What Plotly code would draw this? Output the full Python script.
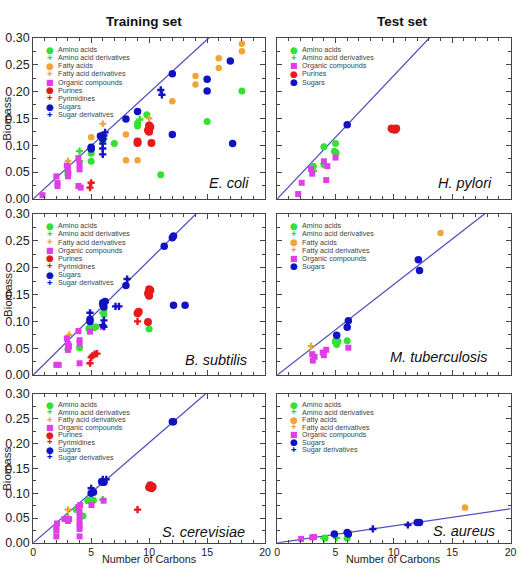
import plotly.graph_objects as go

# ---------------- data ----------------
CLASSES = ["Amino acids", "Amino acid derivatives", "Fatty acids", "Fatty acid derivatives",
           "Organic compounds", "Purines", "Pyrimidines", "Sugars", "Sugar derivatives"]

# E. coli (training)
ecoli_class = (["Amino acids"] * 11 + ["Amino acid derivatives"] * 5 + ["Fatty acids"] * 12 +
               ["Fatty acid derivatives"] * 4 + ["Organic compounds"] * 13 + ["Purines"] * 8 +
               ["Pyrimidines"] * 2 + ["Sugars"] * 12 + ["Sugar derivatives"] * 7)
ecoli_carbons = [5, 5, 6, 7, 9, 9, 9.8, 11, 15, 18, 3,
                 4, 9.2, 4, 3, 6.1,
                 5, 8, 8, 9, 12, 14, 14, 16, 16, 18, 18, 6,
                 3, 6, 10, 3,
                 0.8, 2, 2.1, 2.1, 3, 3, 3, 2.9, 3.9, 4, 4, 3.9, 4.1,
                 9, 9, 10, 10, 10, 9.9, 10.1, 10.2,
                 4.9, 5,
                 5, 5, 5.8, 6, 8, 9, 12, 12, 15, 15, 17, 17.2,
                 6, 6, 6.2, 6, 11, 11.1, 6.1]
ecoli_biomass = [0.085, 0.070, 0.108, 0.103, 0.136, 0.141, 0.157, 0.045, 0.144, 0.201, 0.045,
                 0.089, 0.148, 0.070, 0.050, 0.112,
                 0.115, 0.120, 0.072, 0.072, 0.182, 0.229, 0.213, 0.262, 0.244, 0.289, 0.275, 0.119,
                 0.071, 0.140, 0.150, 0.065,
                 0.007, 0.042, 0.030, 0.024, 0.058, 0.048, 0.042, 0.062, 0.076, 0.064, 0.055, 0.024, 0.021,
                 0.107, 0.104, 0.131, 0.125, 0.137, 0.128, 0.134, 0.104,
                 0.021, 0.030,
                 0.096, 0.093, 0.117, 0.112, 0.149, 0.163, 0.233, 0.120, 0.201, 0.223, 0.257, 0.103,
                 0.103, 0.083, 0.124, 0.094, 0.203, 0.194, 0.118]

# H. pylori (test)
hpylori_class = (["Amino acids"] * 6 + ["Amino acid derivatives"] * 1 + ["Organic compounds"] * 8 +
                 ["Purines"] * 4 + ["Sugars"] * 1)
hpylori_carbons = [4, 3.1, 4, 5, 4.9, 5.05,
                   3.1,
                   1.8, 2.1, 2.9, 3, 4, 4.3, 4.2, 5,
                   9.9, 10.1, 10.2, 9.8,
                   6]
hpylori_biomass = [0.097, 0.061, 0.064, 0.103, 0.089, 0.086,
                   0.052,
                   0.009, 0.030, 0.056, 0.047, 0.070, 0.061, 0.035, 0.077,
                   0.130, 0.129, 0.131, 0.131,
                   0.138]

# B. subtilis (training)
bsub_class = (["Amino acids"] * 8 + ["Amino acid derivatives"] * 2 + ["Fatty acid derivatives"] * 1 +
              ["Organic compounds"] * 12 + ["Purines"] * 8 + ["Pyrimidines"] * 6 +
              ["Sugars"] * 12 + ["Sugar derivatives"] * 8)
bsub_carbons = [4.9, 5.2, 5.4, 4.8, 6.1, 6.1, 10, 4,
                3, 6,
                3.1,
                2, 2.2, 2.9, 3, 3, 3.1, 3.9, 4, 4, 4, 4.9, 6,
                10, 10, 10, 9.9, 10.1, 9, 9.1, 9.9,
                9, 4.9, 5, 5.3, 5.1, 5.5,
                4.9, 4.9, 6, 6.1, 6, 6.2, 8, 12.1, 12, 11.3, 12.1, 13.1,
                4.9, 6.1, 6.1, 6, 6.2, 7.1, 7.4, 8.1]
bsub_biomass = [0.089, 0.088, 0.090, 0.087, 0.113, 0.121, 0.086, 0.051,
                0.048, 0.116,
                0.075,
                0.019, 0.019, 0.068, 0.047, 0.058, 0.054, 0.082, 0.065, 0.059, 0.022, 0.081, 0.090,
                0.156, 0.148, 0.160, 0.152, 0.158, 0.115, 0.118, 0.099,
                0.100, 0.022, 0.033, 0.039, 0.036, 0.040,
                0.104, 0.100, 0.131, 0.127, 0.135, 0.137, 0.167, 0.259, 0.256, 0.240, 0.130, 0.130,
                0.116, 0.102, 0.090, 0.093, 0.136, 0.128, 0.128, 0.179]

# M. tuberculosis (test)
mtb_class = (["Amino acids"] * 4 + ["Amino acid derivatives"] * 1 + ["Fatty acids"] * 1 +
             ["Fatty acid derivatives"] * 1 + ["Organic compounds"] * 7 + ["Sugars"] * 5)
mtb_carbons = [5, 5.2, 5.1, 6,
               5,
               14,
               2.9,
               3, 3.2, 3.05, 3.9, 4, 4.2, 6.1,
               5.1, 6, 6.1, 12.1, 12.2]
mtb_biomass = [0.064, 0.063, 0.057, 0.064,
               0.060,
               0.265,
               0.054,
               0.039, 0.034, 0.027, 0.042, 0.037, 0.047, 0.051,
               0.074, 0.089, 0.101, 0.215, 0.195]

# S. cerevisiae (training)
scer_class = (["Amino acids"] * 6 + ["Amino acid derivatives"] * 2 + ["Fatty acid derivatives"] * 1 +
              ["Organic compounds"] * 17 + ["Purines"] * 4 + ["Pyrimidines"] * 1 +
              ["Sugars"] * 7 + ["Sugar derivatives"] * 3)
scer_carbons = [3.7, 4.8, 5, 5.2, 4.7, 4.3,
                3, 6,
                3,
                2, 2, 2, 2.05, 2.7, 3, 3.1, 4, 4, 4, 4, 4, 4, 4.05, 5.03, 6.07, 3.9,
                10.2, 10.1, 10, 10.3,
                9,
                5, 5.2, 6, 6.1, 5.9, 12.1, 12,
                5, 6, 6.3]
scer_biomass = [0.067, 0.086, 0.086, 0.086, 0.085, 0.054,
                0.051, 0.087,
                0.067,
                0.013, 0.025, 0.031, 0.039, 0.048, 0.044, 0.048, 0.013, 0.028, 0.035, 0.043, 0.054,
                0.063, 0.076, 0.076, 0.085, 0.072,
                0.110, 0.116, 0.112, 0.113,
                0.067,
                0.100, 0.102, 0.122, 0.122, 0.123, 0.244, 0.244,
                0.110, 0.128, 0.128]

# S. aureus (test)
saur_class = (["Amino acids"] * 2 + ["Amino acid derivatives"] * 2 + ["Fatty acids"] * 1 +
              ["Organic compounds"] * 3 + ["Sugars"] * 5 + ["Sugar derivatives"] * 2)
saur_carbons = [4.1, 6,
                5.1, 4,
                16.1,
                2.05, 3, 3.15,
                4.9, 6, 6.1, 12.2, 12,
                8.2, 11.2]
saur_biomass = [0.010, 0.010,
                0.010, 0.009,
                0.071,
                0.008, 0.011, 0.012,
                0.018, 0.021, 0.018, 0.041, 0.041,
                0.028, 0.036]

# fitted line slopes (biomass per carbon)
fit_slopes = {"E. coli": 0.0198, "H. pylori": 0.0230, "B. subtilis": 0.0214,
              "M. tuberculosis": 0.0169, "S. cerevisiae": 0.0202, "S. aureus": 0.00344}

legend_ecoli = CLASSES
legend_hpylori = ["Amino acids", "Amino acid derivatives", "Organic compounds", "Purines", "Sugars"]
legend_bsub = ["Amino acids", "Amino acid derivatives", "Fatty acid derivatives", "Organic compounds",
               "Purines", "Pyrimidines", "Sugars", "Sugar derivatives"]
legend_mtb = ["Amino acids", "Amino acid derivatives", "Fatty acids", "Fatty acid derivatives",
              "Organic compounds", "Sugars"]
legend_scer = legend_bsub
legend_saur = ["Amino acids", "Amino acid derivatives", "Fatty acids", "Fatty acid derivatives",
               "Organic compounds", "Sugars", "Sugar derivatives"]

# ---------------- styles ----------------
GREEN, ORANGE, MAGENTA, RED, BLUE = "#35e035", "#f2a535", "#e03ee6", "#e61a1a", "#1212c4"
STYLE = {
    "Amino acids": ("circle", GREEN, 7, "●", 9),
    "Amino acid derivatives": ("cross", GREEN, 6, "✚", 6.5),
    "Fatty acids": ("circle", ORANGE, 6.5, "●", 9),
    "Fatty acid derivatives": ("cross", ORANGE, 5.5, "✚", 6.5),
    "Organic compounds": ("square", MAGENTA, 6, "■", 8),
    "Purines": ("circle", RED, 8, "●", 9),
    "Pyrimidines": ("cross", RED, 6, "✚", 6.5),
    "Sugars": ("circle", BLUE, 7.5, "●", 9),
    "Sugar derivatives": ("cross", BLUE, 6, "✚", 6.5),
}
LINE_COLOR = "#5252c2"
AXIS_COLOR = "#444444"
FONT = "Liberation Sans, Arial, Helvetica, sans-serif"

# panel: name, data, legend, axis index, row, col, label x (domain), label y (domain)
panels = [
    ("E. coli", ecoli_carbons, ecoli_biomass, ecoli_class, legend_ecoli, 1, 1, 1, 0.941, 0.10),
    ("H. pylori", hpylori_carbons, hpylori_biomass, hpylori_class, legend_hpylori, 2, 1, 2, 0.931, 0.097),
    ("B. subtilis", bsub_carbons, bsub_biomass, bsub_class, legend_bsub, 3, 2, 1, 0.932, 0.091),
    ("M. tuberculosis", mtb_carbons, mtb_biomass, mtb_class, legend_mtb, 4, 2, 2, 0.914, 0.11),
    ("S. cerevisiae", scer_carbons, scer_biomass, scer_class, legend_scer, 5, 3, 1, 0.922, 0.074),
    ("S. aureus", saur_carbons, saur_biomass, saur_class, legend_saur, 6, 3, 2, 0.943, 0.079),
]

W, H = 524, 572
XDOM = {1: [30.7 / W, 266.7 / W], 2: [279.0 / W, 516.4 / W]}
YPIX = {1: (31.7, 196.7), 2: (212.3, 377.3), 3: (396.7, 549.3)}
YDOM = {r: [1 - b / H, 1 - t / H] for r, (t, b) in YPIX.items()}

fig = go.Figure()
annotations = []

for name, cx, by, cls, leg, idx, row, col, lx, ly in panels:
    xa = "x" if idx == 1 else f"x{idx}"
    ya = "y" if idx == 1 else f"y{idx}"
    s = fit_slopes[name]
    fig.add_trace(go.Scatter(x=[0, 20], y=[0, s * 20], mode="lines",
                             line=dict(color=LINE_COLOR, width=1.3),
                             xaxis=xa, yaxis=ya, showlegend=False, hoverinfo="skip"))
    for c in CLASSES:
        px = [x for x, k in zip(cx, cls) if k == c]
        py = [y for y, k in zip(by, cls) if k == c]
        if not px:
            continue
        sym, colr, size, _, _ = STYLE[c]
        fig.add_trace(go.Scatter(x=px, y=py, mode="markers", name=c,
                                 marker=dict(symbol=sym, color=colr, size=size, line=dict(width=0)),
                                 xaxis=xa, yaxis=ya, showlegend=False, cliponaxis=False))
    # legend drawn as text inside the panel
    t, b = YPIX[row]
    step = 8.15 * (b - t) / 165.0
    for i, c in enumerate(leg):
        _, colr, _, glyph, gsize = STYLE[c]
        yshift = -(11.6 * (b - t) / 165.0 + i * step)
        annotations.append(dict(xref=f"{xa} domain", yref=f"{ya} domain", x=0, y=1,
                                xshift=16.8, yshift=yshift, xanchor="center", yanchor="middle",
                                text=glyph, showarrow=False, borderpad=0,
                                font=dict(family="DejaVu Sans", size=gsize, color=colr)))
        annotations.append(dict(xref=f"{xa} domain", yref=f"{ya} domain", x=0, y=1,
                                xshift=24.0, yshift=yshift, xanchor="left", yanchor="middle",
                                text=c, showarrow=False, borderpad=0,
                                font=dict(family=FONT, size=7.2, color="#444444")))
    annotations.append(dict(xref=f"{xa} domain", yref=f"{ya} domain", x=lx, y=ly,
                            xanchor="right", yanchor="middle", text=f"<i>{name}</i>",
                            showarrow=False, font=dict(family=FONT, size=14.5, color="#111111")))

    axis_common = dict(showline=True, linecolor=AXIS_COLOR, linewidth=1, mirror="allticks",
                       ticks="inside", ticklen=5, tickwidth=1, tickcolor=AXIS_COLOR,
                       showgrid=False, zeroline=False)
    fig.update_layout({
        ("xaxis" if idx == 1 else f"xaxis{idx}"): dict(
            axis_common, domain=XDOM[col], range=[0, 20], anchor=ya,
            tickmode="linear", tick0=0, dtick=5,
            tickfont=dict(family=FONT, size=10.5, color="#222222"),
            showticklabels=(row == 3),
            minor=dict(ticks="inside", ticklen=3, dtick=1, tick0=0, tickcolor=AXIS_COLOR,
                       tickwidth=1, showgrid=False)),
        ("yaxis" if idx == 1 else f"yaxis{idx}"): dict(
            axis_common, domain=YDOM[row], range=[0, 0.3], anchor=xa,
            tickmode="linear", tick0=0, dtick=0.05, tickformat=".2f",
            tickfont=dict(family=FONT, size=12.5, color="#222222"),
            showticklabels=(col == 1),
            minor=dict(ticks="inside", ticklen=3, dtick=0.025, tick0=0, tickcolor=AXIS_COLOR,
                       tickwidth=1, showgrid=False)),
    })

    if col == 1:
        annotations.append(dict(xref="paper", yref=f"{ya} domain", x=4.5 / W, y=0.5,
                                xanchor="center", yanchor="middle", textangle=-90,
                                text="Biomass", showarrow=False,
                                font=dict(family=FONT, size=11.5, color="#222222")))
    if row == 3:
        annotations.append(dict(xref=f"{xa} domain", yref="paper", x=0.5, y=1 - 566 / H,
                                xanchor="center", yanchor="middle", text="Number of Carbons",
                                showarrow=False, borderpad=0,
                                font=dict(family=FONT, size=10.8, color="#222222")))

annotations.append(dict(xref="paper", yref="paper", x=143 / W, y=1 - 15 / H, xanchor="center",
                        yanchor="middle", text="<b>Training set</b>", showarrow=False,
                        font=dict(family=FONT, size=13.5, color="#111111")))
annotations.append(dict(xref="paper", yref="paper", x=406.7 / W, y=1 - 15 / H, xanchor="center",
                        yanchor="middle", text="<b>Test set</b>", showarrow=False,
                        font=dict(family=FONT, size=13.5, color="#111111")))

fig.update_layout(width=W, height=H, margin=dict(l=0, r=0, t=0, b=0),
                  paper_bgcolor="white", plot_bgcolor="white", showlegend=False,
                  annotations=annotations)

fig.write_html("out.html")
